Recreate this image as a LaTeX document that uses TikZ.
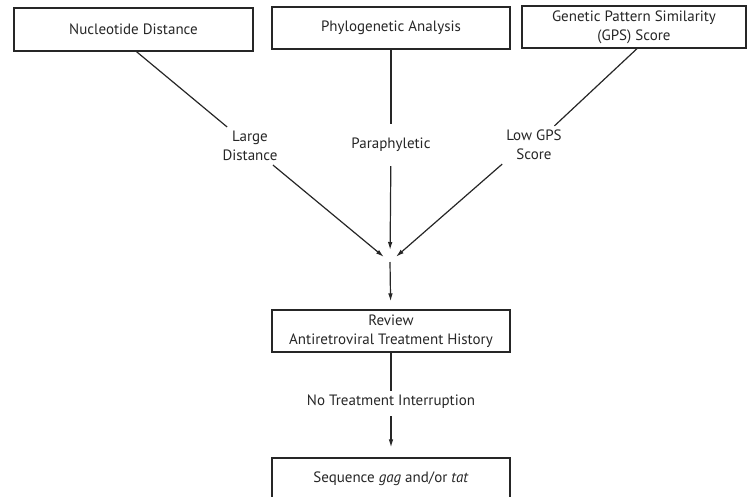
\documentclass[tikz,border=0pt]{standalone}
\usepackage{fontspec}
\setmainfont{PT Sans}
\usetikzlibrary{arrows.meta, positioning, calc}
\definecolor{inkgray}{HTML}{262626}
\tikzset{
  >={Latex[length=8pt,width=4.6pt]},
  flow/.style={-{Latex[length=8pt,width=4.6pt]}, line width=1.2pt, draw=inkgray},
  link/.style={line width=1.2pt, draw=inkgray},
  stepbox/.style={draw=inkgray, line width=1.3pt, align=center, text=inkgray,
                  inner sep=2pt, minimum height=42pt},
  cond/.style={align=center, text=inkgray, inner sep=4pt},
}

\begin{document}
\begin{tikzpicture}[x=1pt, y=-1pt, font=\fontsize{15}{19}\selectfont]
\useasboundingbox (0,0) rectangle (749,496);

% ---- three screening criteria (top row) ----
\node[stepbox, minimum width=239pt, minimum height=43pt] (nuc) at (133.5,29.5) {Nucleotide Distance};
\node[stepbox, minimum width=238pt] (phylo) at (391,28) {Phylogenetic Analysis};
\node[stepbox, minimum width=224pt] (gps) at (634,27) {Genetic Pattern Similarity\\(GPS) Score};

% ---- outcome labels on the connectors ----
\node[cond] (large) at (250,146) {Large\\Distance};
\node[cond, minimum height=42pt] (para) at (391,145) {Paraphyletic};
\node[cond] (lowgps) at (534,145) {Low GPS\\Score};
\coordinate (join) at (390,262);

\draw[link] ([xshift=3pt]nuc.south) -- (large);
\draw[link] (phylo.south) -- (para);
\draw[link] ([xshift=3pt]gps.south) -- (lowgps);

\draw[flow, shorten >=8pt]  (large) -- (join);
\draw[flow, shorten >=12pt] (para) -- (join);
\draw[flow, shorten >=8pt]  (lowgps.south west) -- (join);

% ---- treatment history check (bottom column) ----
\node[stepbox, minimum width=238pt] (review) at (391,331) {Review\\Antiretroviral Treatment History};
\node[cond] (notreat) at (391,402) {No Treatment Interruption};
\node[stepbox, minimum width=238pt] (seq) at (391,479) {Sequence \emph{gag} and/or \emph{tat}};

\draw[flow, shorten >=8pt] (join) -- (review);
\draw[link] (review) -- (notreat);
\draw[flow, shorten <=3pt, shorten >=10pt] (notreat) -- (seq);

\end{tikzpicture}
\end{document}
